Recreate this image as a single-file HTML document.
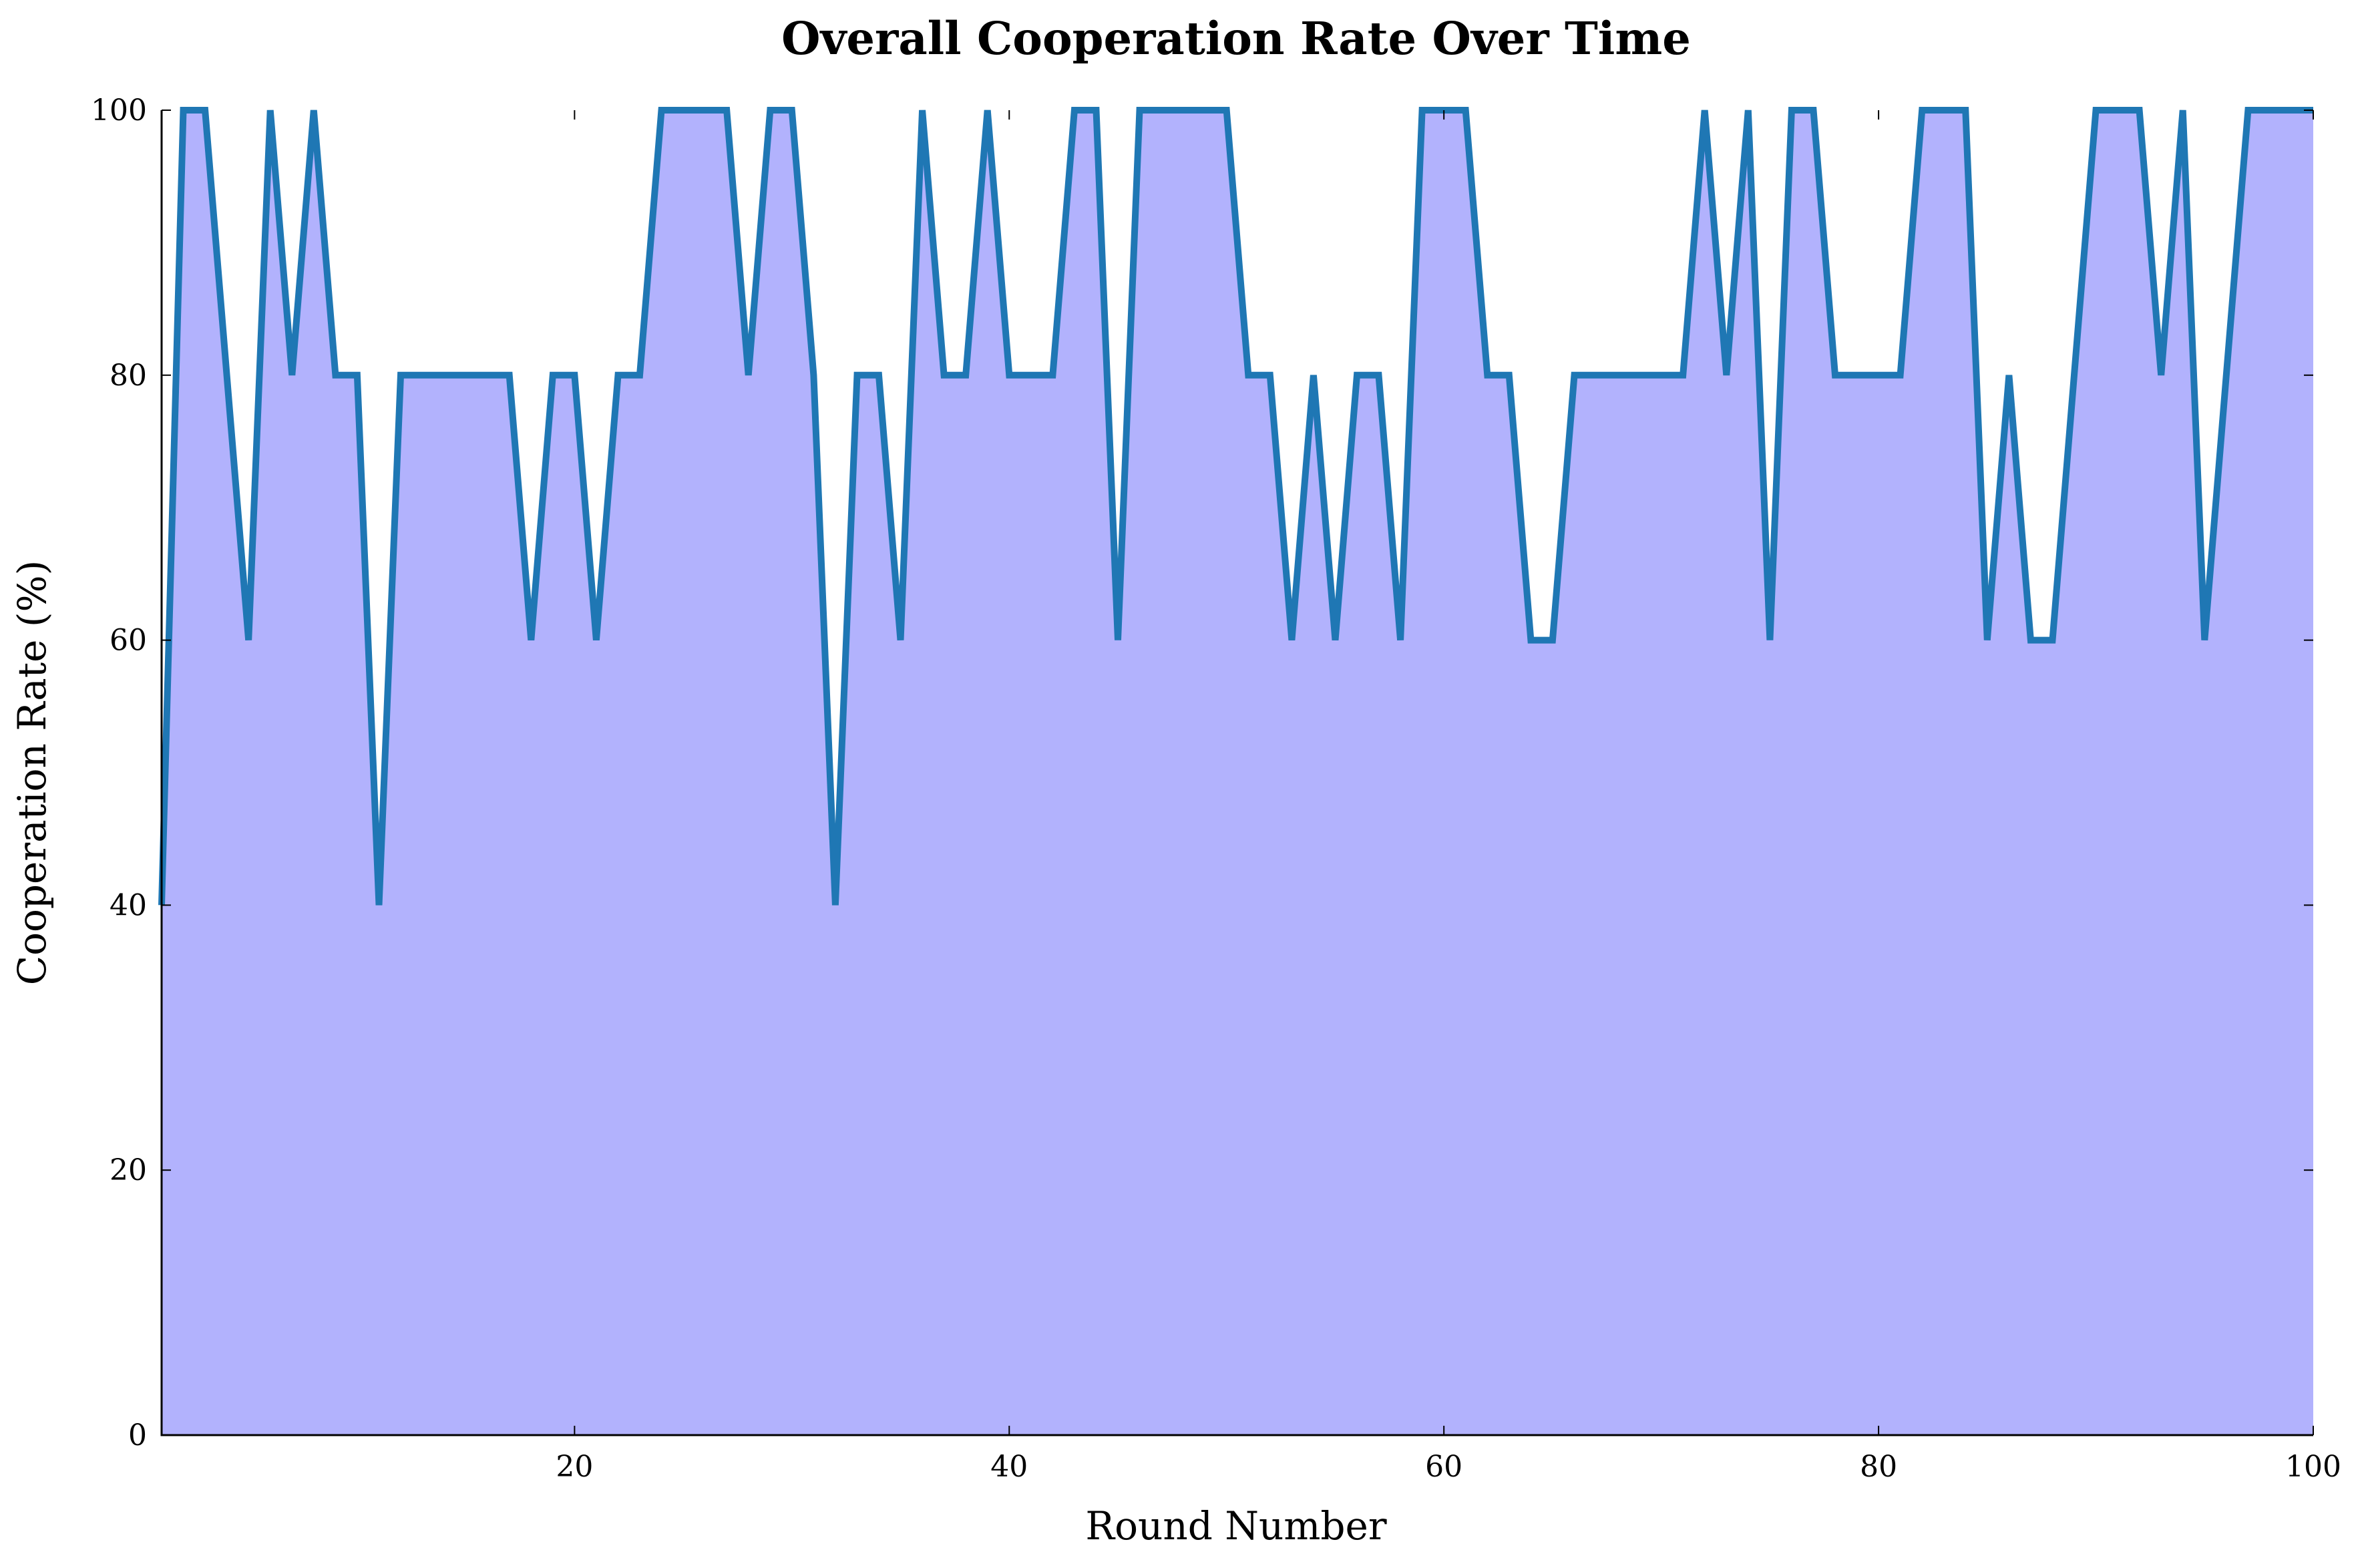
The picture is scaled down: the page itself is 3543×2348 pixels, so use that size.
<!DOCTYPE html>
<html><head><meta charset="utf-8"><style>
html,body{margin:0;padding:0;background:#fff;}
svg text{font-family:"DejaVu Serif","Liberation Serif",serif;}
</style></head><body>
<svg id="chart" width="3543" height="2343" viewBox="0 0 3543 2343" xmlns="http://www.w3.org/2000/svg">
<rect width="3543" height="2343" fill="#fff"/>
<text x="1851" y="81" text-anchor="middle" font-size="67" font-weight="bold">Overall Cooperation Rate Over Time</text>
<g id="plot"></g>
<text x="1851" y="2305" text-anchor="middle" font-size="58">Round Number</text>
<text transform="translate(68,1157) rotate(-90)" text-anchor="middle" font-size="58">Cooperation Rate (%)</text>
</svg>
<script>
const rates = [40,100,100,80,60,100,80,100,80,80,40,80,80,80,80,80,80,60,80,80,60,80,80,100,100,100,100,80,100,100,80,40,80,80,60,100,80,80,100,80,80,80,100,100,60,100,100,100,100,100,80,80,60,80,60,80,80,60,100,100,100,80,80,60,60,80,80,80,80,80,80,100,80,100,60,100,100,80,80,80,80,100,100,100,60,80,60,60,80,100,100,100,80,100,60,80,100,100,100,100];
const xTicks = [20,40,60,80,100];
const yTicks = [0,20,40,60,80,100];
const L=242,R=3464,T=165,B=2149;
const xs = r => L+(r-1)/99*(R-L);
const ys = v => B-v/100*(B-T);
const NS="http://www.w3.org/2000/svg";
const g=document.getElementById('plot');
function mk(t,a){const e=document.createElementNS(NS,t);for(const k in a)e.setAttribute(k,a[k]);g.appendChild(e);return e;}
let pts=rates.map((v,i)=>xs(i+1).toFixed(1)+','+ys(v).toFixed(1));
const area=mk('polygon',{points:xs(1)+','+B+' '+pts.join(' ')+' '+xs(rates.length)+','+B,fill:'#b2b2fd'});


const line=mk('polyline',{points:pts.join(' '),fill:'none',stroke:'#1f77b4','stroke-width':10,'stroke-linejoin':'miter'});


const sp=mk('path',{d:`M${L},${T} L${L},${B} L${R},${B}`,fill:'none',stroke:'#000','stroke-width':3});


xTicks.forEach(t=>{
  const x=xs(t);
  mk('line',{x1:x,y1:B,x2:x,y2:B-14,stroke:'#000','stroke-width':2});
  mk('line',{x1:x,y1:T,x2:x,y2:T+14,stroke:'#000','stroke-width':2});
  const tx=mk('text',{x:x,y:2211,'text-anchor':'middle','font-size':44});
  tx.textContent=t;
  
  
});
yTicks.forEach(t=>{
  const y=ys(t);
  mk('line',{x1:L,y1:y,x2:L+14,y2:y,stroke:'#000','stroke-width':2});
  mk('line',{x1:R,y1:y,x2:R-14,y2:y,stroke:'#000','stroke-width':2});
  const tx=mk('text',{x:220,y:y+15,'text-anchor':'end','font-size':44});
  tx.textContent=t;
  
  
});
</script>
</body></html>
